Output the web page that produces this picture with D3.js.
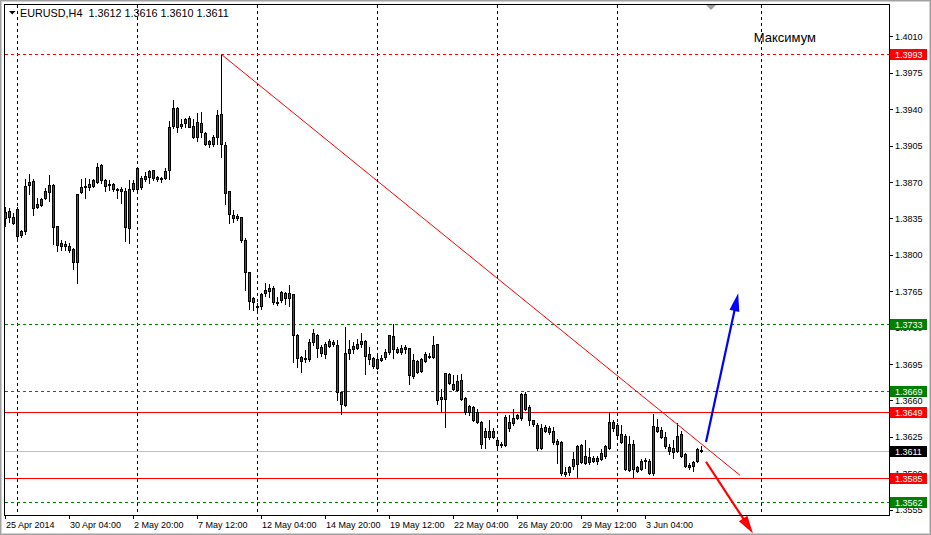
<!DOCTYPE html>
<html><head><meta charset="utf-8">
<script src="https://cdn.jsdelivr.net/npm/d3@7"></script>
<style>html,body{margin:0;padding:0;background:#fff;overflow:hidden}svg{display:block}</style>
</head><body><svg id="c" width="931" height="535"></svg>
<script>
// ---------- DATA ----------
const symbolTitle = "EURUSD,H4  1.3612 1.3616 1.3610 1.3611";
const opens = [1.3835,1.3842,1.3836,1.3844,1.3819,1.3823,1.3867,1.3871,1.3846,1.3848,1.3855,1.3860,1.3867,1.3828,1.3808,1.3808,1.3808,1.3806,1.3793,1.3860,
1.3865,1.3865,1.3866,1.3870,1.3886,1.3872,1.3867,1.3868,1.3863,1.3863,1.3861,1.3826,1.3863,1.3883,1.3865,1.3873,1.3875,1.3882,1.3873,1.3874,
1.3874,1.3882,1.3924,1.3941,1.3924,1.3927,1.3932,1.3924,1.3913,1.3927,1.3917,1.3909,1.3907,1.3913,1.3935,1.3906,1.3861,1.3838,1.3837,1.3836,
1.3814,1.3783,1.3758,1.3751,1.3751,1.3763,1.3765,1.3768,1.3755,1.3757,1.3763,1.3758,1.3762,1.3723,1.3698,1.3700,1.3700,1.3716,1.3723,1.3711,
1.3705,1.3712,1.3716,1.3713,1.3668,1.3656,1.3706,1.3709,1.3710,1.3714,1.3717,1.3705,1.3701,1.3691,1.3699,1.3702,1.3707,1.3722,1.3709,1.3707,
1.3711,1.3710,1.3683,1.3698,1.3688,1.3698,1.3702,1.3702,1.3714,1.3663,1.3661,1.3685,1.3676,1.3670,1.3680,1.3662,1.3649,1.3654,1.3639,1.3639,
1.3625,1.3625,1.3625,1.3622,1.3617,1.3617,1.3633,1.3638,1.3643,1.3643,1.3666,1.3654,1.3641,1.3636,1.3614,1.3634,1.3630,1.3631,1.3621,1.3620,
1.3591,1.3591,1.3597,1.3599,1.3617,1.3607,1.3601,1.3605,1.3602,1.3604,1.3607,1.3614,1.3639,1.3636,1.3628,1.3626,1.3593,1.3618,1.3592,1.3594,
1.3602,1.3602,1.3590,1.3634,1.3632,1.3625,1.3615,1.3610,1.3611,1.3628,1.3608,1.3598,1.3597,1.3602,1.3612];
const highs = [1.3846,1.3845,1.3840,1.3846,1.3824,1.3873,1.3878,1.3873,1.3855,1.3855,1.3864,1.3877,1.3868,1.3828,1.3814,1.3813,1.3811,1.3807,1.3858,1.3873,
1.3874,1.3873,1.3873,1.3888,1.3887,1.3873,1.3872,1.3869,1.3864,1.3865,1.3864,1.3872,1.3872,1.3884,1.3876,1.3880,1.3882,1.3882,1.3876,1.3875,
1.3883,1.3929,1.3949,1.3942,1.3931,1.3932,1.3933,1.3931,1.3936,1.3937,1.3918,1.3910,1.3915,1.3939,1.3993,1.3908,1.3861,1.3843,1.3839,1.3836,
1.3816,1.3783,1.3759,1.3754,1.3763,1.3773,1.3772,1.3770,1.3759,1.3765,1.3764,1.3771,1.3762,1.3724,1.3703,1.3708,1.3719,1.3729,1.3724,1.3713,
1.3716,1.3719,1.3718,1.3718,1.3668,1.3731,1.3718,1.3716,1.3719,1.3725,1.3718,1.3711,1.3702,1.3703,1.3704,1.3709,1.3723,1.3733,1.3711,1.3713,
1.3713,1.3710,1.3705,1.3699,1.3701,1.3707,1.3706,1.3722,1.3714,1.3671,1.3686,1.3686,1.3684,1.3684,1.3685,1.3663,1.3656,1.3655,1.3652,1.3640,
1.3633,1.3641,1.3633,1.3623,1.3620,1.3646,1.3646,1.3652,1.3647,1.3667,1.3668,1.3656,1.3641,1.3638,1.3637,1.3636,1.3635,1.3634,1.3623,1.3621,
1.3596,1.3597,1.3610,1.3617,1.3618,1.3622,1.3614,1.3607,1.3607,1.3613,1.3617,1.3649,1.3641,1.3638,1.3636,1.3628,1.3626,1.3622,1.3597,1.3604,
1.3605,1.3604,1.3647,1.3642,1.3634,1.3630,1.3618,1.3622,1.3638,1.3631,1.3609,1.3600,1.3602,1.3614,1.3616];
const lows = [1.3828,1.3832,1.3830,1.3813,1.3817,1.3820,1.3858,1.3838,1.3845,1.3847,1.3854,1.3852,1.3810,1.3804,1.3805,1.3805,1.3803,1.3786,1.3773,1.3859,
1.3855,1.3862,1.3865,1.3869,1.3869,1.3861,1.3862,1.3861,1.3855,1.3850,1.3813,1.3811,1.3861,1.3862,1.3863,1.3871,1.3869,1.3872,1.3871,1.3870,
1.3873,1.3873,1.3922,1.3918,1.3922,1.3923,1.3923,1.3912,1.3909,1.3913,1.3906,1.3904,1.3905,1.3907,1.3894,1.3849,1.3831,1.3832,1.3833,1.3812,
1.3766,1.3748,1.3747,1.3747,1.3748,1.3760,1.3759,1.3753,1.3752,1.3755,1.3753,1.3751,1.3697,1.3692,1.3687,1.3697,1.3698,1.3713,1.3702,1.3703,
1.3701,1.3711,1.3712,1.3660,1.3647,1.3655,1.3700,1.3706,1.3709,1.3711,1.3685,1.3695,1.3691,1.3690,1.3698,1.3700,1.3705,1.3701,1.3706,1.3705,
1.3706,1.3676,1.3682,1.3686,1.3687,1.3697,1.3701,1.3701,1.3657,1.3650,1.3634,1.3676,1.3670,1.3669,1.3660,1.3647,1.3646,1.3640,1.3638,1.3614,
1.3614,1.3623,1.3624,1.3612,1.3615,1.3616,1.3631,1.3636,1.3642,1.3641,1.3651,1.3636,1.3635,1.3612,1.3613,1.3630,1.3628,1.3618,1.3600,1.3588,
1.3587,1.3588,1.3594,1.3585,1.3600,1.3599,1.3599,1.3601,1.3599,1.3603,1.3605,1.3613,1.3631,1.3626,1.3619,1.3593,1.3592,1.3586,1.3591,1.3593,
1.3595,1.3589,1.3588,1.3630,1.3624,1.3614,1.3608,1.3605,1.3610,1.3606,1.3596,1.3594,1.3592,1.3601,1.3610];
const closes = [1.3841,1.3836,1.3831,1.3818,1.3823,1.3866,1.3870,1.3845,1.3849,1.3854,1.3861,1.3867,1.3827,1.3809,1.3811,1.3810,1.3805,1.3793,1.3858,1.3865,
1.3866,1.3868,1.3872,1.3884,1.3872,1.3866,1.3868,1.3863,1.3862,1.3861,1.3827,1.3863,1.3869,1.3863,1.3874,1.3876,1.3881,1.3874,1.3875,1.3873,
1.3881,1.3923,1.3941,1.3923,1.3926,1.3931,1.3923,1.3913,1.3928,1.3918,1.3907,1.3907,1.3913,1.3934,1.3907,1.3859,1.3839,1.3835,1.3835,1.3814,
1.3783,1.3756,1.3755,1.3750,1.3762,1.3766,1.3768,1.3755,1.3754,1.3764,1.3758,1.3763,1.3723,1.3701,1.3702,1.3701,1.3716,1.3725,1.3710,1.3706,
1.3714,1.3717,1.3714,1.3668,1.3657,1.3706,1.3709,1.3712,1.3714,1.3717,1.3703,1.3700,1.3693,1.3700,1.3701,1.3707,1.3723,1.3709,1.3707,1.3710,
1.3709,1.3684,1.3699,1.3687,1.3700,1.3705,1.3703,1.3713,1.3660,1.3661,1.3686,1.3677,1.3671,1.3679,1.3661,1.3649,1.3655,1.3641,1.3649,1.3618,
1.3631,1.3631,1.3631,1.3617,1.3618,1.3644,1.3639,1.3643,1.3646,1.3666,1.3652,1.3641,1.3637,1.3614,1.3633,1.3631,1.3633,1.3620,1.3618,1.3590,
1.3589,1.3596,1.3604,1.3616,1.3601,1.3600,1.3606,1.3602,1.3605,1.3609,1.3616,1.3639,1.3633,1.3627,1.3620,1.3594,1.3618,1.3594,1.3596,1.3602,
1.3603,1.3590,1.3635,1.3631,1.3625,1.3616,1.3611,1.3614,1.3626,1.3607,1.3597,1.3596,1.3601,1.3613,1.3611];

const priceTicks = [1.4010,1.3975,1.3940,1.3905,1.3870,1.3835,1.3800,1.3765,1.3730,1.3695,1.3660,1.3625,1.3590,1.3555];
const timeTickBars = [0,16,32,48,64,80,96,112,128,144,160];
const timeTickLabels = ["25 Apr 2014","30 Apr 04:00","2 May 20:00","7 May 12:00","12 May 04:00","14 May 20:00","19 May 12:00","22 May 04:00","26 May 20:00","29 May 12:00","3 Jun 04:00"];
const gridBars = [3,33,63,93,123,153,189.1];

// horizontal level objects
const levelPrices = [1.3993,1.3733,1.3669,1.3649,1.3611,1.3585,1.3562];
const levelKinds  = ["redDash","greenDash","greenDash","redSolid","bid","redSolid","greenDash"];

// trendline: [bar, price] start and end
const trendBars = [54,183.75];
const trendPrices = [1.3993,1.3588];
// arrows
const upArrowBars = [175.25,183.3], upArrowPrices = [1.3620,1.3763];
const downArrowBars = [175.25,187], downArrowPrices = [1.3601,1.3532];
const noteText = "Максимум";
const noteBar = 187.2, notePrice = 1.4006;

// ---------- DRAW ----------
const svg = d3.select("#c");
const FONT = "'Liberation Sans', Arial, sans-serif";
const L = 4, T = 4, R = 889, B = 515;

const x = d3.scaleLinear().domain([0,221]).range([5,889]);
const y = d3.scaleLinear().domain([1.3555,1.4010]).range([509.6,36.4]);

svg.append("rect").attr("width",931).attr("height",535).attr("fill","#fff");
// outer window border
svg.append("rect").attr("x",0.5).attr("y",0.5).attr("width",930).attr("height",534)
  .attr("fill","none").attr("stroke","#a0a0a0").attr("stroke-width",1);
svg.append("rect").attr("x",1.5).attr("y",1.5).attr("width",928).attr("height",532)
  .attr("fill","none").attr("stroke","#d4d0c8").attr("stroke-width",1);

const colors = {redDash:"#ff0000",greenDash:"#008000",redSolid:"#ff0000",bid:"#c0c0c0"};
const boxColors = {redDash:"#ff0000",greenDash:"#008000",redSolid:"#ff0000",bid:"#000000"};

// vertical grid
svg.append("g").selectAll("line").data(gridBars).join("line")
  .attr("x1",d=>Math.round(x(d))+0.5).attr("x2",d=>Math.round(x(d))+0.5)
  .attr("y1",T+1).attr("y2",B)
  .attr("stroke","#000").attr("stroke-width",1).attr("stroke-dasharray","3,3");

// level lines
const lg = svg.append("g").attr("shape-rendering","crispEdges");
levelPrices.forEach((p,i)=>{
  const k = levelKinds[i], yy = Math.round(y(p));
  if (k.endsWith("Dash")) {
    lg.append("line").attr("x1",L+1).attr("x2",R).attr("y1",yy+0.5).attr("y2",yy+0.5)
      .attr("stroke",colors[k]).attr("stroke-width",1).attr("stroke-dasharray","3,3");
  } else {
    lg.append("rect").attr("x",L+1).attr("y",yy).attr("width",R-L-1).attr("height",1)
      .style("fill",colors[k]);
  }
});

// candles
const g = svg.append("g").attr("shape-rendering","crispEdges");
const idx = d3.range(opens.length);
idx.forEach(i=>{
  const cx = Math.round(x(i));
  const yH = Math.round(y(highs[i])), yL = Math.round(y(lows[i]));
  g.append("rect").attr("x",cx).attr("y",yH).attr("width",1).attr("height",Math.max(1,yL-yH+1)).attr("fill","#000");
  const top = Math.round(y(Math.max(opens[i],closes[i])));
  const bot = Math.round(y(Math.min(opens[i],closes[i])));
  const h = Math.max(1,bot-top+1);
  g.append("rect").attr("x",cx-1).attr("y",top).attr("width",3).attr("height",h).attr("fill","#000");
  if (h>2) {
    g.append("rect").attr("x",cx).attr("y",top+1).attr("width",1).attr("height",h-2)
      .attr("fill", closes[i]>=opens[i] ? "#008000" : "#ff0000");
  }
});

// trendline
svg.append("line")
  .attr("x1",x(trendBars[0])).attr("y1",y(trendPrices[0]))
  .attr("x2",x(trendBars[1])).attr("y2",y(trendPrices[1]))
  .attr("stroke","#ff0000").attr("stroke-width",1);

// arrows
function arrow(bars, prices, color){
  const x1=x(bars[0]), y1=y(prices[0]), x2=x(bars[1]), y2=y(prices[1]);
  const ang=Math.atan2(y2-y1,x2-x1), len=18, hw=5;
  const bx=x2-len*Math.cos(ang), by=y2-len*Math.sin(ang);
  svg.append("line").attr("x1",x1).attr("y1",y1).attr("x2",bx+3*Math.cos(ang)).attr("y2",by+3*Math.sin(ang))
    .attr("stroke",color).attr("stroke-width",2.2);
  const px=-Math.sin(ang), py=Math.cos(ang);
  svg.append("path").attr("d",`M${x2},${y2}L${bx+hw*px},${by+hw*py}L${bx-hw*px},${by-hw*py}Z`).attr("fill",color);
}
arrow(upArrowBars, upArrowPrices, "#0000ff");
arrow(downArrowBars, downArrowPrices, "#ff0000");

// frame
svg.append("rect").attr("x",L+0.5).attr("y",T+0.5).attr("width",R-L).attr("height",B-T)
  .attr("fill","none").attr("stroke","#000").attr("stroke-width",1);

// price axis
const pa = svg.append("g");
pa.selectAll("line").data(priceTicks).join("line")
  .attr("x1",R).attr("x2",R+4).attr("y1",d=>Math.round(y(d))+0.5).attr("y2",d=>Math.round(y(d))+0.5)
  .attr("stroke","#000");
pa.selectAll("text").data(priceTicks).join("text")
  .attr("x",895).attr("y",d=>y(d)+3.5)
  .attr("font-family",FONT).attr("font-size",9).attr("fill","#000")
  .text(d=>d.toFixed(4));

// level boxes
const lb = svg.append("g");
levelPrices.forEach((p,i)=>{
  const yy = Math.round(y(p));
  lb.append("rect").attr("x",890).attr("y",yy-5).attr("width",37).attr("height",11)
    .attr("fill",boxColors[levelKinds[i]]);
  lb.append("text").attr("x",895).attr("y",yy+3.5)
    .attr("font-family",FONT).attr("font-size",9).attr("fill","#fff").text(p.toFixed(4));
});

// time axis
const ta = svg.append("g");
ta.selectAll("line").data(timeTickBars).join("line")
  .attr("x1",d=>Math.round(x(d))+0.5).attr("x2",d=>Math.round(x(d))+0.5)
  .attr("y1",B).attr("y2",B+4).attr("stroke","#000");
ta.selectAll("text").data(timeTickBars).join("text")
  .attr("x",d=>Math.round(x(d))+1).attr("y",528)
  .attr("font-family",FONT).attr("font-size",9).attr("fill","#000")
  .text((d,i)=>timeTickLabels[i]);

// header
svg.append("path").attr("d","M9,11L15.5,11L12.25,14.5Z").attr("fill","#000");
svg.append("text").attr("x",20).attr("y",16.5).style("white-space","pre")
  .attr("font-family",FONT).attr("font-size",10.8).attr("fill","#000").text(symbolTitle);

// chart shift marker
svg.append("path").attr("d","M706,5L716,5L711,10Z").attr("fill","#a0a0a0");

// note
svg.append("text").attr("x",x(noteBar)).attr("y",y(notePrice)+1)
  .attr("font-family",FONT).attr("font-size",13).attr("fill","#000").text(noteText);
</script></body></html>
